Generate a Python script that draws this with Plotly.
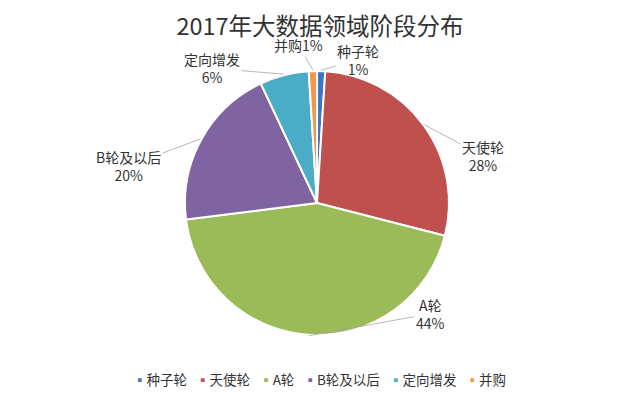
import math
import plotly.graph_objects as go

# ---- data ----
title_text = "2017年大数据领域阶段分布"
categories = ["种子轮", "天使轮", "A轮", "B轮及以后", "定向增发", "并购"]
values = [1, 28, 44, 20, 6, 1]
label_texts = ["种子轮<br>1%", "天使轮<br>28%", "A轮<br>44%", "B轮及以后<br>20%", "定向增发<br>6%", "并购1%"]

# ---- style ----
colors = ["#4472C4", "#C0504D", "#9BBB59", "#8064A2", "#4BACC6", "#F79646"]
OFF = 8  # page body margin in the browser
W, H = 640 - OFF, 397 - OFF
M_L, M_R, M_T, M_B = 0, 14, 63, 62
FONT = "Noto Sans CJK SC"
# label offsets (pixels) from the leader-line anchor on the pie edge
label_offsets = [(37, -10), (58, 31), (122, -22), (-72, 27), (-72, -6), (-14, -25)]

fig = go.Figure(go.Pie(
    labels=categories,
    values=values,
    sort=False,
    direction="clockwise",
    rotation=0,
    textinfo="none",
    hoverinfo="label+percent",
    marker=dict(colors=colors, line=dict(color="white", width=2)),
    showlegend=False,
))

# compute leader-line anchors from the data
pw = W - M_L - M_R
ph = H - M_T - M_B
cx = M_L + pw / 2
cy = M_T + ph / 2
R = min(pw, ph) / 2
total = sum(values)
cum = 0
annotations = []
for v, txt, (dx, dy) in zip(values, label_texts, label_offsets):
    mid = (cum + v / 2) / total * 360
    cum += v
    th = math.radians(mid)
    px = cx + (R + 1) * math.sin(th)
    py = cy - (R + 1) * math.cos(th)
    annotations.append(dict(
        x=(px - M_L) / pw, y=1 - (py - M_T) / ph,
        xref="paper", yref="paper",
        ax=dx, ay=dy, axref="pixel", ayref="pixel",
        text=txt, showarrow=True, arrowhead=0, arrowwidth=0.8,
        arrowcolor="#A6A6A6", standoff=0, startstandoff=0,
        font=dict(size=14, color="#333333", family=FONT),
        align="center",
    ))

# compact legend built from categories and colours
legend_parts = [
    f"<span style='color:{c}'>▪</span>{name}" for name, c in zip(categories, colors)
]
annotations.append(dict(
    x=(319 - OFF - M_L) / pw, y=1 - (379 - OFF - M_T) / ph, xref="paper", yref="paper",
    xanchor="center", yanchor="middle", showarrow=False,
    text="   ".join(legend_parts),
    font=dict(size=13.5, color="#333333", family=FONT),
))

fig.update_layout(
    width=W, height=H,
    margin=dict(l=M_L, r=M_R, t=M_T, b=M_B, autoexpand=False),
    paper_bgcolor="white",
    plot_bgcolor="white",
    font=dict(family=FONT, color="#333333"),
    title=dict(text=title_text, x=(320 - OFF) / W, xanchor="center", y=1 - 19 / H, yanchor="middle",
               font=dict(size=23.5, color="#333333", family=FONT)),
    showlegend=False,
    annotations=annotations,
)

fig.write_html("out.html")
